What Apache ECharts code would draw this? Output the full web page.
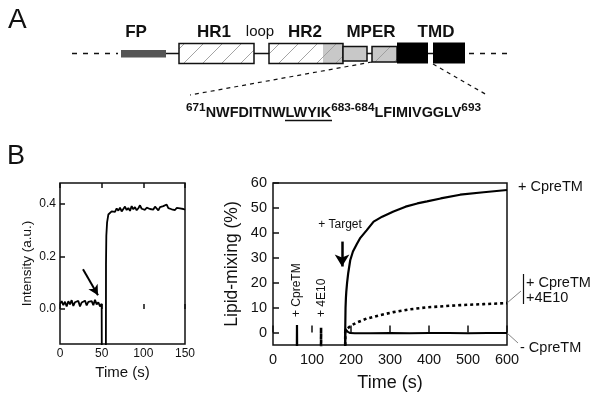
<!DOCTYPE html>
<html>
<head>
<meta charset="utf-8">
<script src="https://cdn.jsdelivr.net/npm/echarts@6/dist/echarts.min.js"></script>
<style>
html, body { margin: 0; padding: 0; background: #fff; }
#main { width: 602px; height: 401px; }
</style>
</head>
<body>
<div id="main"></div>
<script>
// 面板B左：荧光强度 (a.u.) 随时间 (s)
const intensityTime = [0, 2, 4, 6, 8, 10, 12, 14, 16, 18, 20, 22, 24, 26, 28, 30, 32, 34, 36, 38, 40, 42, 44, 46, 48, 50,
  50.3, 55, 55.2, 55.6, 56.5, 58, 60, 62,
  64, 66, 68, 70, 72, 74, 76, 78, 80, 82, 84, 86, 88, 90, 92, 94, 96, 98, 100, 102, 104, 106,
  108, 110, 112, 114, 116, 118, 120, 122, 124, 126, 128, 130, 132, 134, 136, 138, 140, 142, 144, 146, 148, 150];
const intensityValue = [0.020, 0.030, 0.015, 0.028, 0.010, 0.030, 0.018, 0.034, 0.012, 0.026, 0.020, 0.031, 0.010, 0.025, 0.019, 0.032, 0.014, 0.027, 0.020, 0.030, 0.015, 0.035, 0.018, 0.026, 0.010, 0.020,
  -0.3, -0.3, 0.17, 0.28, 0.33, 0.36, 0.365, 0.372,
  0.378, 0.370, 0.383, 0.375, 0.386, 0.372, 0.381, 0.390, 0.377, 0.385, 0.374, 0.392, 0.380, 0.388, 0.376, 0.384, 0.395, 0.382, 0.389, 0.378, 0.386, 0.393,
  0.381, 0.387, 0.379, 0.390, 0.384, 0.376, 0.388, 0.382, 0.392, 0.385, 0.398, 0.384, 0.391, 0.380, 0.387, 0.377, 0.385, 0.379, 0.383, 0.376, 0.381, 0.378];

// 面板B右：脂质混合 (%)
const cpreTime = [0, 61, 61.5, 62, 185, 185.3, 186, 187, 188, 190, 193, 198, 205, 215, 224, 240, 258, 280, 309, 340, 370, 395, 430, 480, 540, 600];
const cpreValue = [-10, -10, 3, -10, -10, 2, 10, 14, 16.5, 20, 24, 29, 32.5, 35.5, 38, 41, 44.5, 46.5, 48.6, 50.5, 51.8, 52.6, 53.8, 55.3, 56.3, 57.2];
const e10Time = [0, 123, 123.2, 123.5, 185, 185.3, 190, 200, 215, 240, 275, 309, 350, 395, 440, 480, 540, 600];
const e10Value = [-10, -10, 2, -10, -10, 0.5, 1.5, 2.8, 4, 5.6, 7, 8.2, 9.3, 10.1, 10.6, 11, 11.4, 11.8];
const noPepTime = [0, 185, 185.3, 188, 192, 198, 210, 250, 300, 350, 400, 450, 500, 550, 600];
const noPepValue = [-10, -10, 1.5, 1, 0.3, -0.2, -0.3, -0.3, -0.2, -0.3, -0.2, -0.2, -0.3, -0.2, -0.2];

// 刻度
const intensityTicks = [0, 0.2, 0.4];
const mixingTicks = [0, 10, 20, 30, 40, 50, 60];

// 箭头 (数据坐标)
const injectArrow = [[27.6, 0.152], [45.6, 0.053]];
const targetArrow = [[177, 36.5], [177, 26.5]];

// 面板A：结构域示意 [起点, 终点, 上, 下, 类型, 灰色起点]
const domainNames = ['FP', 'HR1', 'HR2', 'MPER', 'MPER', 'TMD', 'TMD'];
const domainStart = [121, 179, 269, 343, 372, 397, 433];
const domainEnd = [166, 254, 343, 367, 397, 428, 465];
const domainTop = [50, 43.5, 43.5, 46.5, 46.5, 42.5, 42.5];
const domainBottom = [57.5, 63.5, 63.5, 61, 62, 63.5, 63.5];
const domainKind = [0, 1, 2, 3, 4, 5, 5];
const domainGrayFrom = [0, 0, 323, 0, 0, 0, 0];
const labelNames = ['FP', 'HR1', 'loop', 'HR2', 'MPER', 'TMD'];
const labelCenter = [136, 214, 260, 305, 371, 436];

const FONT = '"Liberation Sans", Arial, Helvetica, sans-serif';
const INK = '#111';

function zip(xs, ys) {
  return xs.map((x, i) => [x, ys[i]]);
}

// 斜线填充
function hatch(bg) {
  const c = document.createElement('canvas');
  c.width = 19; c.height = 19;
  const ctx = c.getContext('2d');
  ctx.fillStyle = bg;
  ctx.fillRect(0, 0, 19, 19);
  ctx.strokeStyle = '#9a9a9a';
  ctx.lineWidth = 0.9;
  ctx.beginPath();
  ctx.moveTo(-2, 21); ctx.lineTo(21, -2);
  ctx.stroke();
  return { image: c, repeat: 'repeat' };
}
const hatchWhite = hatch('#fff');
const hatchGray = hatch('#c8c8c8');

function renderDomain(params, api) {
  const kind = api.value(4);
  const p0 = api.coord([api.value(0), api.value(2)]);
  const p1 = api.coord([api.value(1), api.value(3)]);
  const shape = { x: p0[0], y: p0[1], width: p1[0] - p0[0], height: p1[1] - p0[1] };
  const outline = { stroke: INK, lineWidth: 1.5, fill: null };
  if (kind === 0) return { type: 'rect', shape, style: { fill: '#555' } };
  if (kind === 5) return { type: 'rect', shape, style: { fill: '#000' } };
  if (kind === 1) return { type: 'rect', shape, style: Object.assign({}, outline, { fill: hatchWhite }) };
  if (kind === 3) return { type: 'rect', shape, style: Object.assign({}, outline, { fill: '#c8c8c8' }) };
  if (kind === 4) return { type: 'rect', shape, style: Object.assign({}, outline, { fill: hatchGray }) };
  const g = api.coord([api.value(5), 0])[0];
  return {
    type: 'group',
    children: [
      { type: 'rect', shape, style: { fill: hatchWhite } },
      { type: 'rect', shape: { x: g, y: shape.y, width: shape.x + shape.width - g, height: shape.height }, style: { fill: hatchGray } },
      { type: 'rect', shape, style: outline }
    ]
  };
}

var myChart = echarts.init(document.getElementById('main'), null, { renderer: 'canvas' });

const tickLabel = { color: INK, fontFamily: FONT };

const domainLabels = labelNames.map((name, i) => ({
  type: 'text', x: labelCenter[i], y: 32,
  style: {
    text: name, fontSize: name === 'loop' ? 15 : 17, fontWeight: name === 'loop' ? 'normal' : 'bold',
    fontFamily: FONT, fill: INK, align: 'center', verticalAlign: 'middle'
  }
}));

var option = {
  animation: false,
  backgroundColor: '#fff',
  grid: [
    { left: 60, top: 183, width: 125, height: 161, show: true, borderColor: INK, borderWidth: 1.5, backgroundColor: 'transparent' },
    { left: 273, top: 183, width: 234, height: 162, show: true, borderColor: INK, borderWidth: 1.5, backgroundColor: 'transparent' },
    { left: 0, top: 0, width: 602, height: 401, show: false }
  ],
  xAxis: [
    {
      gridIndex: 0, type: 'value', min: 0, max: 150, interval: 50,
      axisLine: { show: false }, splitLine: { show: false },
      axisTick: { inside: true, length: 5, lineStyle: { color: INK, width: 1.5 } },
      axisLabel: Object.assign({ fontSize: 12, margin: 4 }, tickLabel),
      name: 'Time (s)', nameLocation: 'middle', nameGap: 21,
      nameTextStyle: { fontSize: 15, color: INK, fontFamily: FONT }
    },
    {
      gridIndex: 0, type: 'value', min: 0, max: 150, interval: 50, position: 'top',
      axisLine: { show: false }, splitLine: { show: false }, axisLabel: { show: false },
      axisTick: { inside: true, length: 5, lineStyle: { color: INK, width: 1.5 } }
    },
    {
      gridIndex: 1, type: 'value', min: 0, max: 600, interval: 100,
      axisLine: { show: false }, splitLine: { show: false },
      axisTick: { inside: true, length: 7, lineStyle: { color: INK, width: 1.5 } },
      axisLabel: Object.assign({ fontSize: 14.5, margin: 7 }, tickLabel),
      name: 'Time (s)', nameLocation: 'middle', nameGap: 29,
      nameTextStyle: { fontSize: 18, color: INK, fontFamily: FONT }
    },
    { gridIndex: 2, type: 'value', min: 0, max: 602, show: false }
  ],
  yAxis: [
    {
      gridIndex: 0, type: 'value', min: -0.133, max: 0.48,
      axisLine: { show: false }, splitLine: { show: false },
      axisTick: { inside: true, length: 5, customValues: intensityTicks, lineStyle: { color: INK, width: 1.5 } },
      axisLabel: Object.assign({ fontSize: 12, margin: 4, customValues: intensityTicks, formatter: v => v.toFixed(1) }, tickLabel),
      name: 'Intensity (a.u.)', nameLocation: 'middle', nameGap: 26,
      nameTextStyle: { fontSize: 13.5, color: INK, fontFamily: FONT }
    },
    {
      gridIndex: 1, type: 'value', min: -5, max: 60,
      axisLine: { show: false }, splitLine: { show: false },
      axisTick: { inside: true, length: 6, customValues: mixingTicks, lineStyle: { color: INK, width: 1.5 } },
      axisLabel: Object.assign({ fontSize: 14.5, margin: 6, customValues: mixingTicks }, tickLabel),
      name: 'Lipid-mixing (%)', nameLocation: 'middle', nameGap: 32,
      nameTextStyle: { fontSize: 17.5, color: INK, fontFamily: FONT }
    },
    { gridIndex: 2, type: 'value', min: 0, max: 401, inverse: true, show: false }
  ],
  series: [
    {
      type: 'line', xAxisIndex: 0, yAxisIndex: 0, showSymbol: false, clip: true,
      lineStyle: { color: '#000', width: 1.8 },
      data: zip(intensityTime, intensityValue),
      markLine: {
        silent: true, symbol: ['none', 'arrow'], symbolSize: [8, 10],
        label: { show: false },
        lineStyle: { color: '#000', width: 2, type: 'solid' },
        data: [[{ coord: injectArrow[0] }, { coord: injectArrow[1] }]]
      }
    },
    {
      type: 'line', xAxisIndex: 2, yAxisIndex: 1, showSymbol: false, clip: true,
      lineStyle: { color: '#000', width: 2.2 },
      data: zip(cpreTime, cpreValue),
      markLine: {
        silent: true, symbol: ['none', 'arrow'], symbolSize: [11, 12],
        label: { show: false },
        lineStyle: { color: '#000', width: 2.5, type: 'solid' },
        data: [[{ coord: targetArrow[0] }, { coord: targetArrow[1] }]]
      }
    },
    {
      type: 'line', xAxisIndex: 2, yAxisIndex: 1, showSymbol: false, clip: true,
      lineStyle: { color: '#000', width: 2.6, type: [3, 3] },
      data: zip(e10Time, e10Value)
    },
    {
      type: 'line', xAxisIndex: 2, yAxisIndex: 1, showSymbol: false, clip: true,
      lineStyle: { color: '#000', width: 2 },
      data: zip(noPepTime, noPepValue)
    },
    {
      type: 'custom', xAxisIndex: 3, yAxisIndex: 2, z: 5, silent: true,
      renderItem: renderDomain,
      data: domainStart.map((s, i) => [s, domainEnd[i], domainTop[i], domainBottom[i], domainKind[i], domainGrayFrom[i]])
    }
  ],
  graphic: [
    // 面板标签
    { type: 'text', left: 8, top: 6, style: { text: 'A', fontSize: 28, fontFamily: FONT, fill: INK } },
    { type: 'text', left: 7, top: 143, style: { text: 'B', fontSize: 27, fontFamily: FONT, fill: INK } },
    // 骨架与虚线
    { type: 'line', z: 1, shape: { x1: 166, y1: 53.5, x2: 465, y2: 53.5 }, style: { stroke: INK, lineWidth: 1.5 } },
    { type: 'line', z: 1, shape: { x1: 72, y1: 53.5, x2: 118, y2: 53.5 }, style: { stroke: INK, lineWidth: 1.5, lineDash: [5, 6] } },
    { type: 'line', z: 1, shape: { x1: 469, y1: 53.5, x2: 508, y2: 53.5 }, style: { stroke: INK, lineWidth: 1.5, lineDash: [5, 6] } },
    { type: 'line', z: 1, shape: { x1: 372, y1: 62, x2: 190, y2: 95 }, style: { stroke: INK, lineWidth: 1.2, lineDash: [4, 4] } },
    { type: 'line', z: 1, shape: { x1: 433, y1: 64, x2: 487, y2: 95 }, style: { stroke: INK, lineWidth: 1.2, lineDash: [4, 4] } },
    ...domainLabels,
    // 序列
    {
      type: 'text', x: 186, y: 111,
      style: {
        text: '{s|671}{b|NWFDITNW}{b|LWYIK}{s|683-684}{b|LFIMIVGGLV}{s|693}',
        fontFamily: FONT, fill: INK, verticalAlign: 'middle',
        rich: {
          s: { fontSize: 11.8, fontWeight: 'bold', fontFamily: FONT, fill: INK, verticalAlign: 'top', lineHeight: 18 },
          b: { fontSize: 14.4, fontWeight: 'bold', fontFamily: FONT, fill: INK, verticalAlign: 'bottom', lineHeight: 18 }
        }
      }
    },
    { type: 'line', shape: { x1: 285, y1: 120.5, x2: 332, y2: 120.5 }, style: { stroke: INK, lineWidth: 1.5 } },
    // 右图注释
    { type: 'text', x: 340, y: 225, style: { text: '+ Target', fontSize: 12, fontFamily: FONT, fill: INK, align: 'center', verticalAlign: 'middle' } },
    { type: 'text', x: 297, y: 317, rotation: Math.PI / 2, style: { text: '+ CpreTM', fontSize: 12, fontFamily: FONT, fill: INK, align: 'left', verticalAlign: 'middle' } },
    { type: 'text', x: 322, y: 317, rotation: Math.PI / 2, style: { text: '+ 4E10', fontSize: 12, fontFamily: FONT, fill: INK, align: 'left', verticalAlign: 'middle' } },
    { type: 'text', x: 518, y: 187, style: { text: '+ CpreTM', fontSize: 14.5, fontFamily: FONT, fill: INK, verticalAlign: 'middle' } },
    { type: 'text', x: 526, y: 283, style: { text: '+ CpreTM', fontSize: 14.5, fontFamily: FONT, fill: INK, verticalAlign: 'middle' } },
    { type: 'text', x: 526, y: 298, style: { text: '+4E10', fontSize: 14.5, fontFamily: FONT, fill: INK, verticalAlign: 'middle' } },
    { type: 'text', x: 520, y: 348, style: { text: '- CpreTM', fontSize: 14.5, fontFamily: FONT, fill: INK, verticalAlign: 'middle' } },
    { type: 'line', shape: { x1: 523.5, y1: 274, x2: 523.5, y2: 304 }, style: { stroke: INK, lineWidth: 1.2 } },
    { type: 'line', shape: { x1: 507, y1: 303, x2: 521, y2: 291 }, style: { stroke: '#666', lineWidth: 0.8 } },
    { type: 'line', shape: { x1: 507, y1: 333, x2: 518, y2: 343 }, style: { stroke: '#666', lineWidth: 0.8 } }
  ]
};
myChart.setOption(option);
</script>
</body>
</html>
